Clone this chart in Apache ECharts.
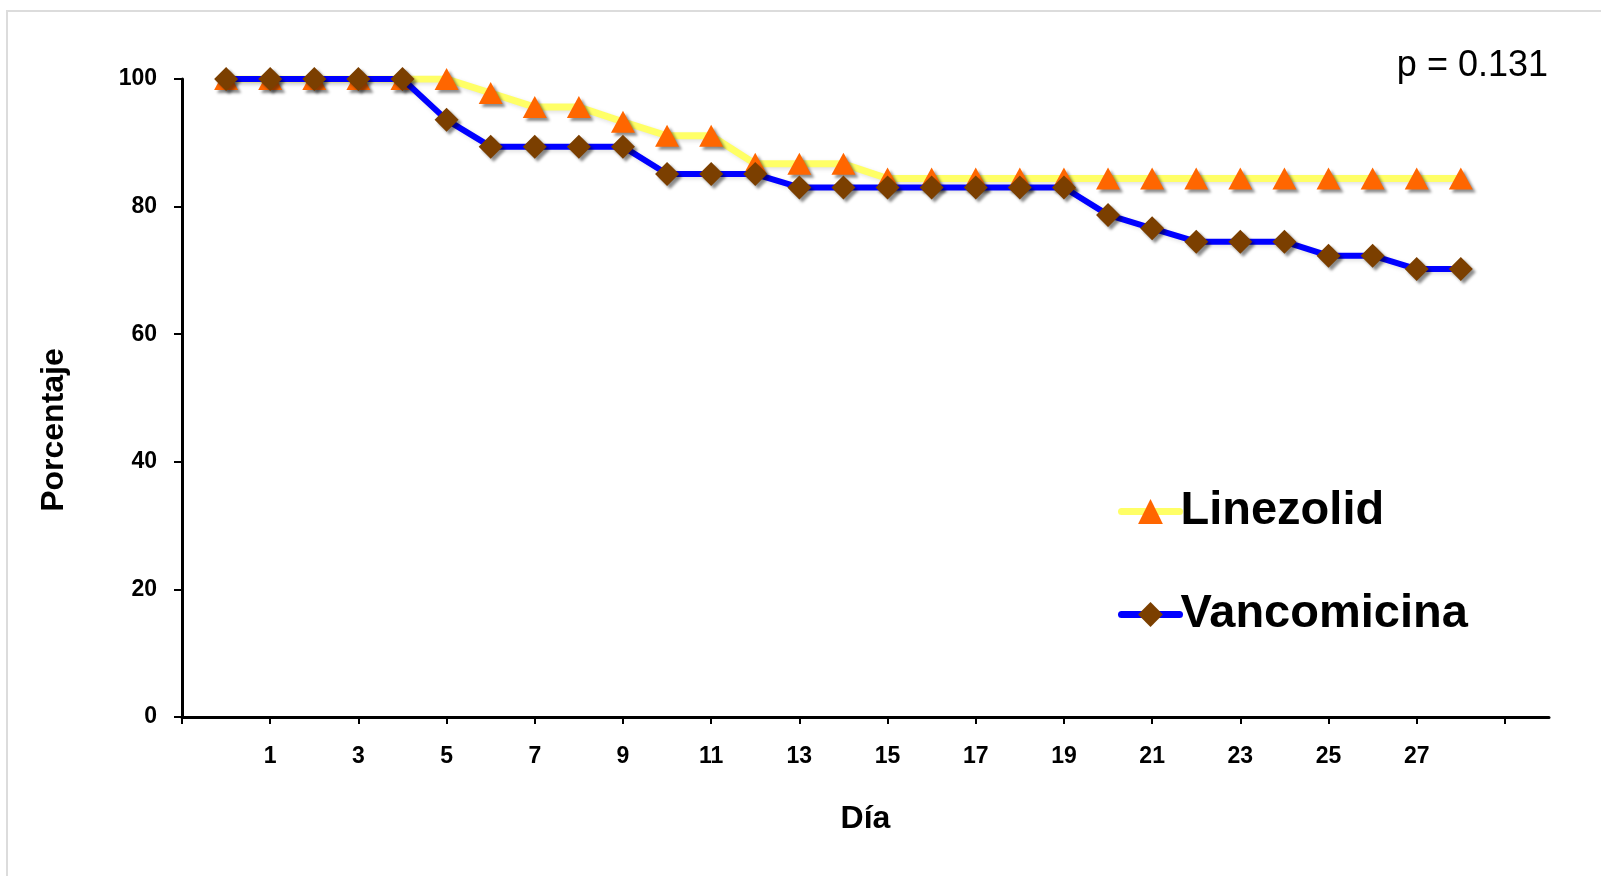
<!DOCTYPE html>
<html>
<head>
<meta charset="utf-8">
<script src="https://cdn.jsdelivr.net/npm/echarts@6/dist/echarts.min.js"></script>
<style>
  html, body { margin: 0; padding: 0; background: #ffffff; }
  #chart { width: 1601px; height: 876px; }
</style>
</head>
<body>
<div id="chart"></div>
<script>
// ---- data ----
var days = [0, 1, 2, 3, 4, 5, 6, 7, 8, 9, 10, 11, 12, 13, 14, 15, 16, 17, 18, 19, 20, 21, 22, 23, 24, 25, 26, 27, 28];
var linezolid = [100, 100, 100, 100, 100, 100, 97.8, 95.6, 95.6, 93.3, 91.1, 91.1, 86.7, 86.7, 86.7,
                 84.4, 84.4, 84.4, 84.4, 84.4, 84.4, 84.4, 84.4, 84.4, 84.4, 84.4, 84.4, 84.4, 84.4];
var vancomicina = [100, 100, 100, 100, 100, 93.6, 89.4, 89.4, 89.4, 89.4, 85.1, 85.1, 85.1,
                   83.0, 83.0, 83.0, 83.0, 83.0, 83.0, 83.0, 78.7, 76.6, 74.5, 74.5, 74.5, 72.3, 72.3, 70.2, 70.2];
var xTickValues = [-1, 1, 3, 5, 7, 9, 11, 13, 15, 17, 19, 21, 23, 25, 27, 29];
var xLabelValues = [1, 3, 5, 7, 9, 11, 13, 15, 17, 19, 21, 23, 25, 27];
var seriesNames = ['Linezolid', 'Vancomicina'];
var pText = 'p = 0.131';

function pairs(xs, ys) {
  return xs.map(function (x, i) { return [x, ys[i]]; });
}

var chart = echarts.init(document.getElementById('chart'), null, { renderer: 'canvas' });

var markerShadow = {
  shadowBlur: 3,
  shadowColor: 'rgba(0,0,0,0.45)',
  shadowOffsetX: 3,
  shadowOffsetY: 3
};

var option = {
  backgroundColor: '#ffffff',
  animation: false,
  grid: { left: 182, right: 52, top: 79, bottom: 159, containLabel: false },
  xAxis: {
    type: 'value',
    min: -1,
    max: 30,
    name: 'Día',
    nameLocation: 'middle',
    nameGap: 86,
    nameTextStyle: { fontFamily: 'Liberation Sans', fontWeight: 'bold', fontSize: 32, color: '#000' },
    axisLine: { show: true, onZero: false, lineStyle: { color: '#000', width: 3 } },
    axisTick: { show: true, length: 7, customValues: xTickValues, lineStyle: { color: '#000', width: 2 } },
    axisLabel: {
      customValues: xLabelValues,
      margin: 28,
      fontFamily: 'Liberation Sans', fontWeight: 'bold', fontSize: 23, color: '#000'
    },
    splitLine: { show: false }
  },
  yAxis: {
    type: 'value',
    min: 0,
    max: 100,
    interval: 20,
    axisLine: { show: true, onZero: false, lineStyle: { color: '#000', width: 3 } },
    axisTick: { show: true, length: 8, lineStyle: { color: '#000', width: 2 } },
    axisLabel: {
      margin: 25,
      fontFamily: 'Liberation Sans', fontWeight: 'bold', fontSize: 23, color: '#000'
    },
    splitLine: { show: false }
  },
  legend: {
    orient: 'vertical',
    left: 1113,
    top: 483,
    itemWidth: 58,
    itemHeight: 31,
    itemGap: 56,
    data: [
      { name: seriesNames[0], lineStyle: { width: 7, color: '#FFFF66', cap: 'round' } },
      { name: seriesNames[1], lineStyle: { width: 7, color: '#0000FF', cap: 'round' } }
    ],
    textStyle: { fontFamily: 'Liberation Sans', fontWeight: 'bold', fontSize: 47, color: '#000', padding: [0, 0, 0, -4] }
  },
  graphic: [
    {
      type: 'rect',
      silent: true,
      shape: { x: 7, y: 11, width: 1620, height: 880 },
      style: { fill: 'none', stroke: '#dcdcdc', lineWidth: 2 }
    },
    {
      type: 'text',
      silent: true,
      x: 54, y: 430,
      rotation: Math.PI / 2,
      style: {
        text: 'Porcentaje', fill: '#000',
        font: 'bold 32px "Liberation Sans"',
        align: 'center', verticalAlign: 'middle'
      }
    },
    {
      type: 'text',
      silent: true,
      x: 1548, y: 66,
      style: {
        text: pText, fill: '#000',
        font: '36px "Liberation Sans"',
        align: 'right', verticalAlign: 'middle'
      }
    }
  ],
  series: [
    {
      name: seriesNames[0],
      type: 'line',
      data: pairs(days, linezolid),
      symbol: 'triangle',
      symbolSize: [24, 22],
      showSymbol: true,
      lineStyle: { color: '#FFFF66', width: 7, cap: 'round', shadowColor: 'rgba(0,0,0,0.12)', shadowBlur: 4, shadowOffsetX: 2, shadowOffsetY: 2 },
      itemStyle: Object.assign({ color: '#FF6600', borderWidth: 0 }, markerShadow),
      emphasis: { disabled: true },
      z: 2
    },
    {
      name: seriesNames[1],
      type: 'line',
      data: pairs(days, vancomicina),
      symbol: 'diamond',
      symbolSize: 24,
      showSymbol: true,
      lineStyle: { color: '#0000FF', width: 6, cap: 'round', shadowColor: 'rgba(0,0,0,0.12)', shadowBlur: 4, shadowOffsetX: 2, shadowOffsetY: 2 },
      itemStyle: Object.assign({ color: '#7B3F00', borderWidth: 0 }, markerShadow),
      emphasis: { disabled: true },
      z: 3
    }
  ]
};

chart.setOption(option);
</script>
</body>
</html>
